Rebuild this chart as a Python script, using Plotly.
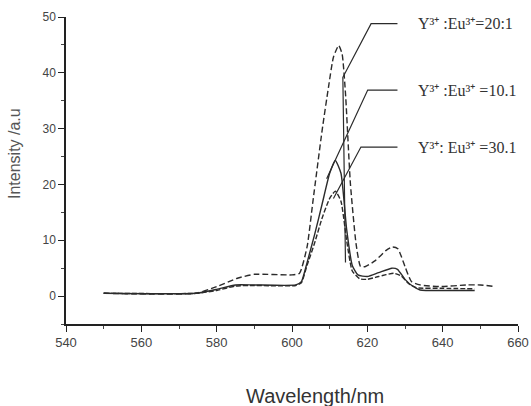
import plotly.graph_objects as go

# Emission spectra
wl_20 = [550, 574.5, 580, 585.5, 590, 600, 602, 604, 605.6, 608, 609.7, 611, 612.4, 613.3,
         614.2, 615.5, 617, 618.2, 619.5, 622.2, 625, 626.7, 628.1, 630, 631.7, 634, 639.3,
         646.5, 650, 654]
int_20 = [0.5, 0.5, 1.7, 3.2, 3.9, 3.8, 4.1, 8.8, 17.2, 29.7, 37.5, 42.8, 44.9, 43.4,
          36.3, 20.2, 9.4, 5.3, 5.3, 6.4, 8.2, 8.8, 8.5, 5.3, 2.6, 2.0, 1.7,
          2.0, 2.0, 1.7]

wl_10 = [550, 574.5, 580, 585, 590, 601, 602.5, 604, 606, 608, 610, 611.5, 613, 614.5,
         616, 617.5, 620, 623, 626.5, 628, 630, 632, 634, 640, 648.5]
int_10 = [0.5, 0.5, 1.2, 2.0, 2.0, 2.0, 2.6, 6.0, 11.0, 16.5, 22.0, 24.3, 22.0, 12.0,
          5.5, 3.8, 3.5, 4.2, 5.0, 4.8, 3.0, 1.8, 1.1, 1.0, 1.0]

wl_30 = [550, 574.5, 580, 585, 590, 601, 602.5, 604, 606, 608, 610, 611.5, 613, 614.5,
         616, 618, 620, 623, 627, 629, 631, 633, 640, 648.5]
int_30 = [0.5, 0.5, 1.0, 1.8, 1.9, 1.9, 2.4, 5.5, 9.5, 14.0, 17.5, 18.8, 17.0, 10.0,
          4.5, 3.1, 3.0, 3.5, 4.1, 3.6, 2.2, 1.5, 1.4, 1.3]

labels = ['Y³⁺ :Eu³⁺=20:1', 'Y³⁺ :Eu³⁺ =10.1', 'Y³⁺: Eu³⁺ =30.1']

LINE = '#2b2b2b'
# plot box in pixels (left, right, top, bottom)
L, R, T, B = 66, 518, 17, 324

fig = go.Figure()
fig.add_trace(go.Scatter(x=wl_20, y=int_20, mode='lines', name=labels[0],
                         line=dict(color=LINE, width=1.4, dash='6px,3px', shape='spline', smoothing=0.5)))
fig.add_trace(go.Scatter(x=wl_10, y=int_10, mode='lines', name=labels[1],
                         line=dict(color=LINE, width=1.4, shape='spline', smoothing=0.5)))
fig.add_trace(go.Scatter(x=wl_30, y=int_30, mode='lines', name=labels[2],
                         line=dict(color=LINE, width=1.4, dash='5px,2px', shape='spline', smoothing=0.5)))

# leader lines from the labels down to the curves
leaders = [
    'M 628 48.8 L 621 48.8 L 613.5 39.2 L 614.2 6',
    'M 628 36.9 L 620.1 36.9 L 609.2 21',
    'M 628 26.7 L 618.3 26.7 L 611 17.5',
]
for p in leaders:
    fig.add_shape(type='path', path=p, xref='x', yref='y',
                  line=dict(color=LINE, width=1.2))

for lab, yy in zip(labels, [48.8, 36.9, 26.7]):
    fig.add_annotation(x=633.0, y=yy, xref='x', yref='y', text=lab, showarrow=False,
                       xanchor='left', yanchor='middle',
                       font=dict(family='Liberation Serif', size=16, color='#333'))

# axis titles placed by pixel
fig.add_annotation(x=(315 - L) / (R - L), y=-(396 - B) / (B - T), xref='paper', yref='paper',
                   text='Wavelength/nm', showarrow=False, xanchor='center', yanchor='middle',
                   font=dict(family='Liberation Sans', size=20, color='#333'))
fig.add_annotation(x=-(L - 14) / (R - L), y=(B - 154) / (B - T), xref='paper', yref='paper',
                   text='Intensity /a.u', showarrow=False, textangle=-90,
                   xanchor='center', yanchor='middle',
                   font=dict(family='Liberation Sans', size=16, color='#555'))

fig.update_layout(
    width=531, height=406,
    margin=dict(l=L, r=531 - R, t=T, b=406 - B),
    paper_bgcolor='white', plot_bgcolor='white',
    showlegend=False,
    font=dict(family='Liberation Sans', color='#444'),
    xaxis=dict(range=[540, 660], dtick=20, tick0=540, showgrid=False, zeroline=False,
               automargin=False,
               showline=True, linecolor='#222', linewidth=1.5,
               ticks='outside', ticklen=6, tickwidth=1.2, tickcolor='#222',
               minor=dict(dtick=10, ticks='outside', ticklen=3, tickcolor='#444'),
               tickfont=dict(size=13, color='#444')),
    yaxis=dict(range=[-5, 50], dtick=10, tick0=0, showgrid=False, zeroline=False,
               automargin=False,
               showline=True, linecolor='#222', linewidth=1.5,
               ticks='outside', ticklen=6, tickwidth=1.2, tickcolor='#222',
               minor=dict(dtick=5, tick0=0, ticks='outside', ticklen=3, tickcolor='#444'),
               tickfont=dict(size=12, color='#444')),
)

# the page has a default body margin; drop it so the figure sits at 0,0
fig.write_html('out.html', config={'displayModeBar': False},
               post_script="document.body.style.margin='0';")
